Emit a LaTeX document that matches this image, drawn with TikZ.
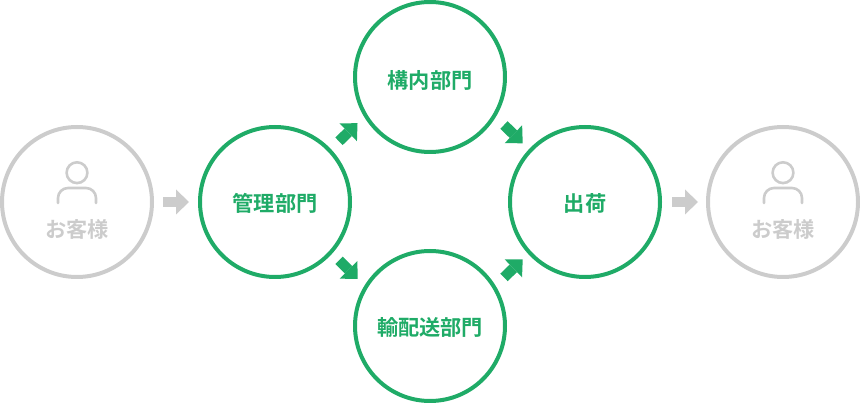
\documentclass[tikz,border=0pt]{standalone}
\usepackage{fontspec}
\setmainfont{Noto Sans CJK JP}[BoldFont={* Bold}]
\usetikzlibrary{arrows.meta}
\definecolor{grn}{HTML}{1FAB67}
\definecolor{gry}{HTML}{CCCCCC}
\tikzset{
 x=1pt,y=-1pt,
 ring/.style={circle,draw=#1,line width=4pt,minimum size=150pt,inner sep=0pt,outer sep=0pt},
 cap/.style={text=#1,font=\fontsize{21.2pt}{23pt}\selectfont\bfseries,inner sep=0pt,anchor=center},
 blockarrow/.style={draw=#1,line width=10.5pt,-{Triangle[length=13pt,width=25pt,fill=#1,line width=0pt,sep=0pt]},shorten >=0pt},
 usericon/.style={draw=gry,line width=2.6pt,line cap=round,fill=none},
}
\begin{document}
\begin{tikzpicture}
\useasboundingbox (0,0) rectangle (860,403);
\node[ring=gry] (c1) at (77,202) {};
\node[ring=grn] (m) at (275,202) {};
\node[ring=grn] (t) at (430,77) {};
\node[ring=grn] (b) at (430,326) {};
\node[ring=grn] (s) at (585,202) {};
\node[ring=gry] (c2) at (783,202) {};
\node[cap=gry] (lc1) at (77,229.6) {お客様};
\node[cap=gry] (lc2) at (783,229.6) {お客様};
\node[cap=grn] (lm) at (275,203.6) {管理部門};
\node[cap=grn] (lt) at (430,80.6) {構内部門};
\node[cap=grn] (lb) at (430,327.6) {輸配送部門};
\node[cap=grn] (ls) at (585,203.6) {出荷};
% user icons
\foreach \cx in {77,783}{
 \draw[usericon] (\cx,172.7) circle (10.4);
 \draw[usericon,rounded corners=10pt] (\cx-19,203) -- (\cx-19,188) -- (\cx+19,188) -- (\cx+19,203);
}
% arrows
\coordinate (a1s) at (163,202); \coordinate (a1e) at (189,202);
\coordinate (a2s) at (339,141.3); \coordinate (a2e) at (357.5,123.2);
\coordinate (a3s) at (339,260.3); \coordinate (a3e) at (357.7,279);
\coordinate (a4s) at (504,125); \coordinate (a4e) at (522.7,143.3);
\coordinate (a5s) at (504,277.4); \coordinate (a5e) at (522.7,259.3);
\coordinate (a6s) at (672,202); \coordinate (a6e) at (698,202);
\draw[blockarrow=gry] (a1s) -- (a1e);
\draw[blockarrow=grn] (a2s) -- (a2e);
\draw[blockarrow=grn] (a3s) -- (a3e);
\draw[blockarrow=grn] (a4s) -- (a4e);
\draw[blockarrow=grn] (a5s) -- (a5e);
\draw[blockarrow=gry] (a6s) -- (a6e);
\end{tikzpicture}
\end{document}
